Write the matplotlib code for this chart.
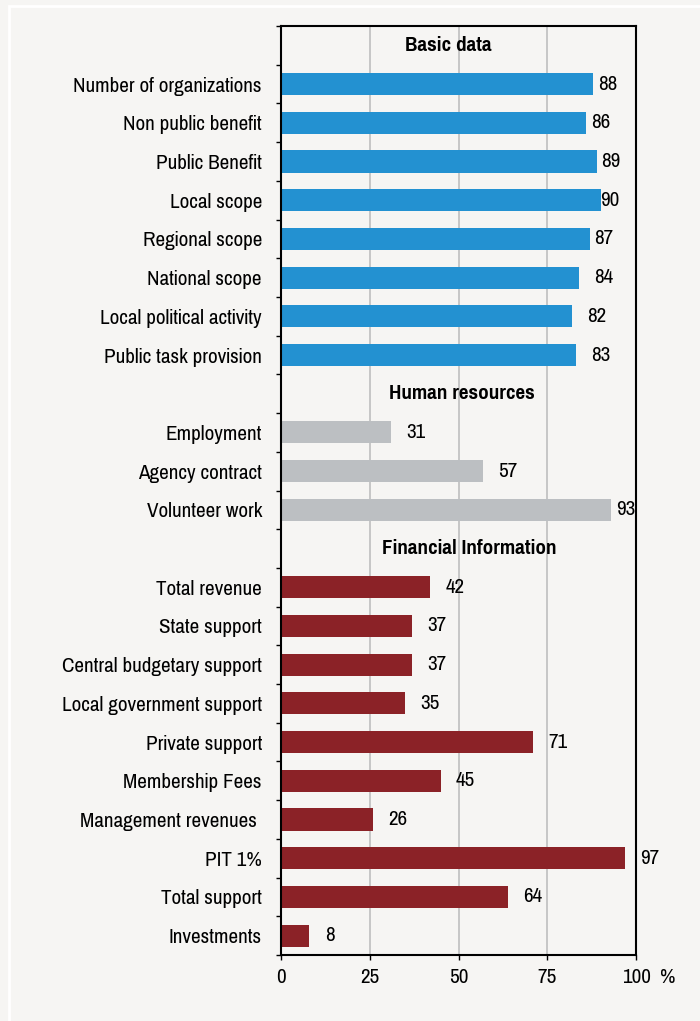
import matplotlib.pyplot as plt
from matplotlib.patches import Rectangle

# survey shares (%) by section
basic_labels = ["Number of organizations", "Non public benefit", "Public Benefit",
                "Local scope", "Regional scope", "National scope",
                "Local political activity", "Public task provision"]
basic_values = [88, 86, 89, 90, 87, 84, 82, 83]

human_labels = ["Employment", "Agency contract", "Volunteer work"]
human_values = [31, 57, 93]

fin_labels = ["Total revenue", "State support", "Central budgetary support",
              "Local government support", "Private support", "Membership Fees",
              "Management revenues ", "PIT 1%", "Total support", "Investments"]
fin_values = [42, 37, 37, 35, 71, 45, 26, 97, 64, 8]

sections = ["Basic data", "Human resources", "Financial Information"]
section_x = [47, 51, 53]
colors = ["#2391d1", "#bcbfc2", "#8b2227"]

bg = "#f6f5f3"
plt.rcParams['font.family'] = ['Pragati Narrow', 'Archivo Narrow', 'Liberation Sans']
plt.rcParams['font.size'] = 16.5

fig = plt.figure(figsize=(7, 10.21), dpi=100, facecolor=bg)
ax = fig.add_axes([281 / 700, 1 - 955 / 1021, 355 / 700, 929 / 1021])
ax.set_facecolor(bg)

# white frame line around the panel
fig.patches.append(Rectangle((9 / 700, -0.1), 1.2, 1 - 6 / 1021 + 0.1,
                             transform=fig.transFigure, fill=False,
                             edgecolor="white", linewidth=2, zorder=0))

ylabels = []
pos = 0
for name, labels, values, color, hx in zip(
        sections, [basic_labels, human_labels, fin_labels],
        [basic_values, human_values, fin_values], colors, section_x):
    ax.text(hx, pos, name, ha="center", va="center", fontweight="bold")
    ylabels.append("")
    pos += 1
    for lab, v in zip(labels, values):
        ax.barh(pos, v, height=0.57, color=color, zorder=2)
        if v == 90:
            off = 0
        elif 85 <= v <= 95:
            off = 1.3
        else:
            off = 4.3
        ax.text(v + off, pos, str(v), ha="left", va="center", clip_on=False)
        ylabels.append(lab)
        pos += 1

ax.set_ylim(pos - 0.5, -0.5)
ax.set_xlim(0, 100)
ax.set_yticks(range(pos))
ax.set_yticklabels(ylabels)
ax.set_yticks([i - 0.5 for i in range(pos + 1)], minor=True)
ax.tick_params(axis="y", which="major", length=0, pad=13.7)
ax.tick_params(axis="y", which="minor", length=3.6, width=1, color="black")
ax.set_xticks([0, 25, 50, 75, 100])
ax.set_xticklabels(["0", "25", "50", "75", "100"])
ax.tick_params(axis="x", length=3.6, width=1, pad=6)
ax.annotate("%", xy=(1, 0), xycoords="axes fraction", xytext=(23, -9.6),
            textcoords="offset points", ha="center", va="top")
for spine in ax.spines.values():
    spine.set_linewidth(1.5)
    spine.set_zorder(3)
ax.grid(axis="x", color="#c6c6c6", linewidth=1.4, zorder=1)
ax.set_axisbelow(True)

fig.savefig("out.png", dpi=100, facecolor=bg)
